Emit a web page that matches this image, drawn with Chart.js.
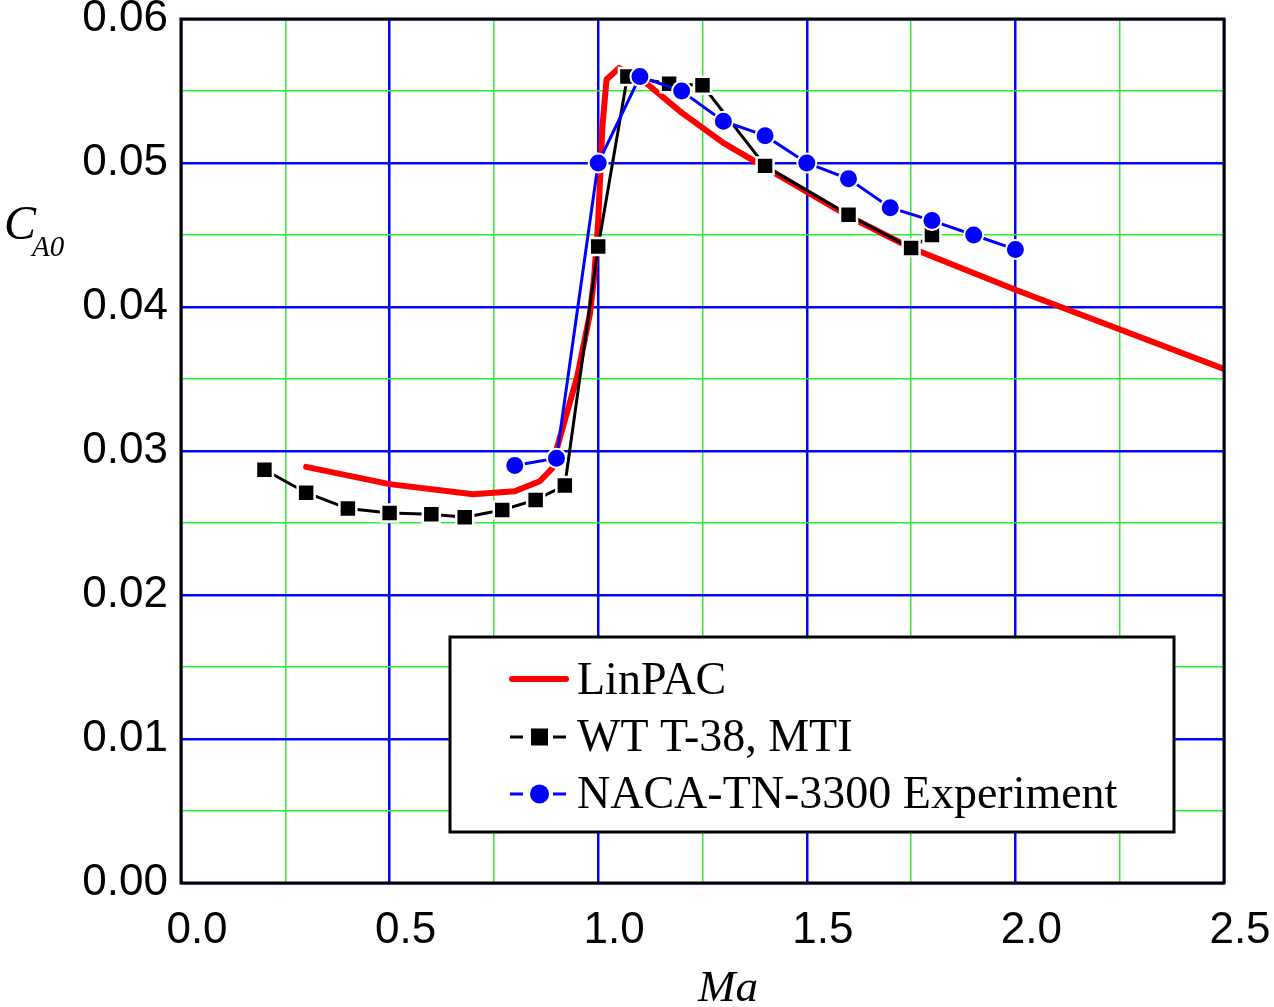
<!DOCTYPE html>
<html>
<head>
<meta charset="utf-8">
<script src="https://cdn.jsdelivr.net/npm/chart.js@4.4.1/dist/chart.umd.min.js"></script>
<style>
html,body{margin:0;padding:0;background:#fff;}
#wrap{width:1274px;height:1007px;position:relative;}
</style>
</head>
<body>
<div id="wrap"><canvas id="c"></canvas></div>
<script>
// ---- data ----
const maLinPAC = [0.3,0.5,0.7,0.8,0.86,0.89,0.9,0.95,0.98,0.99,1.0,1.01,1.02,1.05,1.1,1.2,1.3,1.4,1.6,1.75,2.0,2.5];
const caLinPAC = [0.0289,0.0277,0.0270,0.0272,0.0279,0.0288,0.0301,0.0352,0.0395,0.0420,0.0460,0.0525,0.0558,0.0566,0.0559,0.0535,0.0514,0.0497,0.0463,0.0441,0.0412,0.0357];

const maWT = [0.2,0.3,0.4,0.5,0.6,0.68,0.77,0.85,0.92,1.0,1.07,1.17,1.25,1.4,1.6,1.75,1.8];
const caWT = [0.0287,0.0271,0.0260,0.0257,0.0256,0.0254,0.0259,0.0266,0.0276,0.0442,0.0560,0.0555,0.0554,0.0498,0.0464,0.0441,0.0450];

const maNACA = [0.8,0.9,1.0,1.1,1.2,1.3,1.4,1.5,1.6,1.7,1.8,1.9,2.0];
const caNACA = [0.0290,0.0295,0.0500,0.0560,0.0550,0.0529,0.0519,0.0500,0.0489,0.0469,0.0460,0.0450,0.0440];

const seriesNames = ['LinPAC','WT T-38, MTI','NACA-TN-3300 Experiment'];
const xTitle = 'Ma';
const yTitleMain = 'C';
const yTitleSub = 'A0';

const pts = (xs, ys) => xs.map((x, i) => ({x: x, y: ys[i]}));

const BLUE = '#0000ff', GREEN = '#2cf02c', RED = '#ff0000';
const isMajor = (v, step) => Math.abs(v / step - Math.round(v / step)) < 1e-6;

const framePlugin = {
  id: 'frameAndLegend',
  afterDraw(chart) {
    const ctx = chart.ctx, a = chart.chartArea;
    ctx.save();
    // frame
    ctx.strokeStyle = '#000';
    ctx.lineWidth = 3;
    ctx.strokeRect(a.left, a.top, a.right - a.left, a.bottom - a.top);

    // legend box
    const lx = 450, ly = 637, lw = 724, lh = 195;
    ctx.fillStyle = '#fff';
    ctx.fillRect(lx, ly, lw, lh);
    ctx.lineWidth = 3;
    ctx.strokeStyle = '#000';
    ctx.strokeRect(lx, ly, lw, lh);

    const rows = [679, 737, 794];
    // LinPAC sample
    ctx.strokeStyle = RED; ctx.lineWidth = 6; ctx.lineCap = 'round';
    ctx.beginPath(); ctx.moveTo(512, rows[0]); ctx.lineTo(566, rows[0]); ctx.stroke();
    ctx.lineCap = 'butt';
    // WT sample
    ctx.strokeStyle = '#000'; ctx.lineWidth = 3;
    ctx.beginPath(); ctx.moveTo(510, rows[1]); ctx.lineTo(523, rows[1]); ctx.moveTo(553, rows[1]); ctx.lineTo(566, rows[1]); ctx.stroke();
    ctx.fillStyle = '#000';
    ctx.fillRect(531, rows[1] - 8.5, 17, 17);
    // NACA sample
    ctx.strokeStyle = BLUE;
    ctx.beginPath(); ctx.moveTo(510, rows[2]); ctx.lineTo(523, rows[2]); ctx.moveTo(553, rows[2]); ctx.lineTo(566, rows[2]); ctx.stroke();
    ctx.fillStyle = BLUE;
    ctx.beginPath(); ctx.arc(539.5, rows[2], 9.5, 0, Math.PI * 2); ctx.fill();

    ctx.fillStyle = '#000';
    ctx.font = '46px "Liberation Serif", "Times New Roman", serif';
    ctx.textAlign = 'left'; ctx.textBaseline = 'alphabetic';
    ctx.fillText(seriesNames[0], 577, 694);
    ctx.fillText(seriesNames[1], 577, 751);
    ctx.fillText(seriesNames[2], 577, 808);

    // axis titles
    ctx.font = 'italic 45px "Liberation Serif", "Times New Roman", serif';
    ctx.textAlign = 'center';
    ctx.fillText(xTitle, 728, 1001);
    ctx.textAlign = 'left';
    ctx.font = 'italic 48px "Liberation Serif", "Times New Roman", serif';
    ctx.fillText(yTitleMain, 4, 239);
    ctx.font = 'italic 29px "Liberation Serif", "Times New Roman", serif';
    ctx.fillText(yTitleSub, 32, 256);
    ctx.restore();
  }
};

new Chart(document.getElementById('c'), {
  type: 'line',
  data: {
    datasets: [
      {
        label: seriesNames[0],
        data: pts(maLinPAC, caLinPAC),
        borderColor: RED, backgroundColor: RED,
        borderWidth: 6, pointRadius: 0, tension: 0,
        borderJoinStyle: 'round', borderCapStyle: 'round',
        order: 3
      },
      {
        label: seriesNames[1],
        data: pts(maWT, caWT),
        borderColor: '#000', backgroundColor: '#000',
        borderWidth: 3, tension: 0,
        pointStyle: 'rect', pointRadius: 12,
        pointBackgroundColor: '#000', pointBorderColor: '#fff', pointBorderWidth: 2.5,
        order: 2
      },
      {
        label: seriesNames[2],
        data: pts(maNACA, caNACA),
        borderColor: BLUE, backgroundColor: BLUE,
        borderWidth: 3, tension: 0,
        pointStyle: 'circle', pointRadius: 9.5,
        pointBackgroundColor: BLUE, pointBorderColor: '#fff', pointBorderWidth: 2,
        order: 1
      }
    ]
  },
  options: {
    responsive: true,
    maintainAspectRatio: false,
    animation: false,
    events: [],
    layout: { padding: { left: 0, top: 19, right: 50, bottom: 0 } },
    plugins: { legend: { display: false }, tooltip: { enabled: false } },
    scales: {
      x: {
        type: 'linear', min: 0, max: 2.5,
        afterFit(s) { s.height = 124; },
        border: { display: false },
        grid: {
          drawTicks: false,
          color: c => isMajor(c.tick.value, 0.5) ? BLUE : GREEN,
          lineWidth: c => isMajor(c.tick.value, 0.5) ? 2.5 : 1.5
        },
        ticks: {
          stepSize: 0.25, autoSkip: false, maxRotation: 0,
          padding: 4, labelOffset: 16,
          color: '#000',
          font: { family: '"Liberation Sans", Arial, sans-serif', size: 44, lineHeight: 2.0 },
          callback: v => isMajor(v, 0.5) ? v.toFixed(1) : ''
        }
      },
      y: {
        type: 'linear', min: 0, max: 0.06,
        afterFit(s) { s.width = 181; },
        border: { display: false },
        grid: {
          drawTicks: false,
          color: c => isMajor(c.tick.value, 0.01) ? BLUE : GREEN,
          lineWidth: c => isMajor(c.tick.value, 0.01) ? 2.5 : 1.5
        },
        ticks: {
          stepSize: 0.005, autoSkip: false,
          padding: 13,
          color: '#000',
          font: { family: '"Liberation Sans", Arial, sans-serif', size: 44, lineHeight: 0.25 },
          callback: v => isMajor(v, 0.01) ? v.toFixed(2) : ''
        }
      }
    }
  },
  plugins: [framePlugin]
});
</script>
</body>
</html>
